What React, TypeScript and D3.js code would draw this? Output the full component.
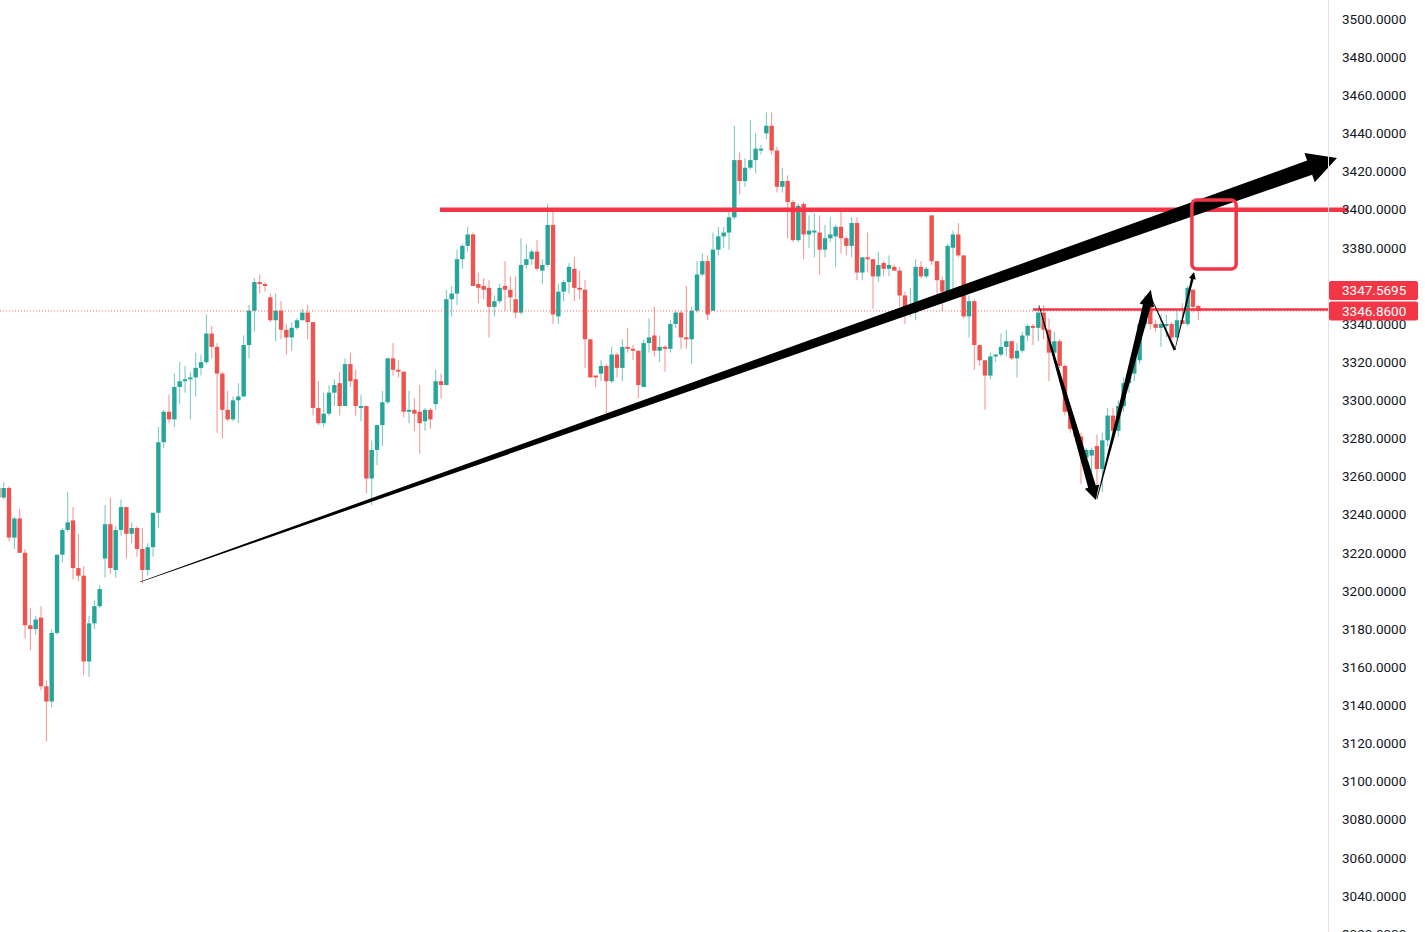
import React from 'react';
import * as d3 from 'd3';

// ---------- DATA ----------
const opens = [
  3254, 3249, 3254, 3228, 3238, 3220, 3182, 3180, 3186, 3150,
  3142, 3178, 3219, 3232, 3237, 3212, 3208, 3163, 3183, 3192,
  3217, 3235, 3211, 3232, 3244, 3230, 3233, 3222, 3211, 3223,
  3241, 3278, 3294, 3290, 3307, 3310, 3311, 3312, 3317, 3320,
  3335, 3328, 3314, 3295, 3290, 3300, 3302, 3329, 3347, 3362,
  3361, 3354, 3342, 3347, 3337, 3333, 3338, 3342, 3346, 3341,
  3296, 3288, 3293, 3304, 3309, 3297, 3319, 3311, 3296, 3297,
  3259, 3274, 3287, 3299, 3322, 3316, 3315, 3294, 3295, 3294,
  3289, 3295, 3298, 3310, 3308, 3353, 3356, 3374, 3381, 3387,
  3361, 3360, 3359, 3349, 3352, 3360, 3358, 3353, 3346, 3371,
  3374, 3378, 3368, 3371, 3392, 3344, 3357, 3362, 3369, 3359,
  3358, 3332, 3313, 3314, 3318, 3310, 3324, 3317, 3328, 3327,
  3326, 3307, 3330, 3334, 3326, 3328, 3327, 3340, 3346, 3333,
  3332, 3347, 3366, 3373, 3347, 3379, 3386, 3388, 3396, 3426,
  3415, 3422, 3426, 3431, 3440, 3444, 3431, 3412, 3415, 3404,
  3384, 3403, 3387, 3388, 3388, 3379, 3385, 3386, 3391, 3385,
  3381, 3393, 3367, 3375, 3374, 3365, 3372, 3369, 3370, 3368,
  3355, 3346, 3346, 3370, 3365, 3397, 3373, 3363, 3357, 3380,
  3387, 3376, 3344, 3352, 3329, 3321, 3313, 3323, 3324, 3328,
  3331, 3322, 3326, 3334, 3339, 3338, 3346, 3337, 3325, 3331,
  3318, 3294, 3285, 3281, 3270, 3271, 3276, 3264, 3279, 3292,
  3284, 3297, 3309, 3314, 3321, 3340, 3353, 3340, 3338, 3339,
  3340, 3333, 3342, 3340, 3358, 3349.5,
];
const highs = [
  3256, 3257, 3255, 3239, 3243, 3222, 3191, 3187, 3192, 3153,
  3180, 3219, 3233, 3252, 3244, 3230, 3213, 3187, 3195, 3203,
  3245, 3249, 3234, 3248, 3244, 3236, 3234, 3233, 3225, 3241,
  3286, 3295, 3303, 3314, 3320, 3318, 3315, 3325, 3324, 3345,
  3339, 3330, 3315, 3305, 3302, 3309, 3334, 3350, 3364, 3366,
  3362, 3356, 3356, 3352, 3340, 3341, 3343, 3348, 3350, 3341,
  3310, 3304, 3308, 3311, 3315, 3322, 3325, 3316, 3303, 3297,
  3279, 3287, 3305, 3322, 3330, 3321, 3315, 3305, 3301, 3308,
  3296, 3296, 3316, 3314, 3358, 3360, 3379, 3382, 3391, 3388,
  3367, 3364, 3363, 3355, 3361, 3373, 3365, 3365, 3385, 3382,
  3379, 3384, 3374, 3403, 3399, 3361, 3363, 3372, 3375, 3368,
  3363, 3332, 3313, 3321, 3319, 3328, 3325, 3332, 3338, 3329,
  3326, 3332, 3343, 3349, 3334, 3329, 3342, 3347, 3347, 3360,
  3349, 3373, 3377, 3376, 3388, 3391, 3391, 3399, 3444, 3430,
  3427, 3447, 3440, 3434, 3451, 3451, 3433, 3422, 3418, 3405,
  3403, 3404, 3397, 3398, 3397, 3392, 3396, 3392, 3399, 3386,
  3396, 3396, 3375, 3388, 3374, 3378, 3373, 3376, 3371, 3370,
  3357, 3359, 3374, 3373, 3370, 3397, 3373, 3365, 3382, 3389,
  3393, 3376, 3355, 3353, 3329, 3321, 3325, 3324, 3335, 3337,
  3331, 3330, 3336, 3340, 3340, 3349, 3350, 3343, 3336, 3332,
  3319, 3295, 3286, 3283, 3275, 3275, 3282, 3283, 3296, 3296,
  3300, 3312, 3318, 3326, 3342, 3355, 3358, 3342, 3345, 3345,
  3341, 3347, 3351, 3360, 3358, 3350,
];
const lows = [
  3248, 3248, 3226, 3222, 3220, 3175, 3169, 3177, 3148, 3121,
  3139, 3177, 3215, 3231, 3206, 3205, 3156, 3155, 3180, 3191,
  3207, 3209, 3207, 3229, 3217, 3225, 3218, 3204, 3208, 3218,
  3233, 3275, 3288, 3286, 3298, 3304, 3290, 3302, 3313, 3319,
  3322, 3283, 3280, 3289, 3289, 3288, 3302, 3322, 3336, 3356,
  3357, 3341, 3331, 3332, 3324, 3326, 3337, 3342, 3332, 3292,
  3287, 3286, 3292, 3297, 3292, 3297, 3307, 3292, 3289, 3251,
  3245, 3266, 3276, 3298, 3313, 3312, 3291, 3288, 3284, 3272,
  3284, 3285, 3295, 3301, 3308, 3344, 3350, 3369, 3378, 3360,
  3351, 3353, 3333, 3344, 3351, 3347, 3347, 3343, 3345, 3369,
  3371, 3368, 3361, 3370, 3340, 3340, 3352, 3356, 3352, 3353,
  3317, 3312, 3307, 3310, 3293, 3309, 3312, 3310, 3325, 3321,
  3301, 3307, 3325, 3323, 3320, 3315, 3325, 3338, 3327, 3327,
  3319, 3346, 3365, 3342, 3347, 3376, 3380, 3379, 3395, 3408,
  3412, 3421, 3419, 3429, 3437, 3429, 3409, 3409, 3385, 3383,
  3383, 3374, 3380, 3375, 3366, 3375, 3383, 3370, 3377, 3376,
  3375, 3363, 3363, 3367, 3348, 3362, 3365, 3365, 3368, 3349,
  3340, 3344, 3342, 3364, 3364, 3371, 3355, 3347, 3356, 3358,
  3375, 3343, 3333, 3316, 3318, 3295, 3311, 3320, 3323, 3323,
  3321, 3312, 3325, 3331, 3329, 3331, 3332, 3310, 3322, 3317,
  3292, 3283, 3278, 3256, 3266, 3256, 3255, 3252, 3276, 3280,
  3281, 3294, 3304, 3310, 3319, 3338, 3337, 3336, 3328, 3333,
  3332, 3332, 3340, 3339, 3346, 3342,
];
const closes = [
  3249, 3254, 3228, 3238, 3220, 3182, 3180, 3185, 3150, 3142,
  3178, 3219, 3232, 3236, 3212, 3208, 3163, 3183, 3192, 3201,
  3235, 3212, 3232, 3244, 3230, 3233, 3222, 3211, 3223, 3241,
  3278, 3294, 3290, 3307, 3310, 3311, 3312, 3317, 3320, 3335,
  3328, 3314, 3295, 3290, 3300, 3302, 3329, 3347, 3362, 3361,
  3360, 3342, 3347, 3337, 3333, 3338, 3342, 3346, 3341, 3296,
  3288, 3293, 3304, 3308, 3297, 3319, 3310, 3297, 3297, 3259,
  3274, 3287, 3299, 3322, 3316, 3315, 3294, 3295, 3293, 3288,
  3295, 3290, 3310, 3308, 3353, 3356, 3374, 3381, 3387, 3360,
  3359, 3358, 3349, 3352, 3359, 3358, 3354, 3346, 3371, 3374,
  3378, 3369, 3371, 3392, 3345, 3357, 3362, 3370, 3359, 3358,
  3332, 3312, 3312, 3318, 3310, 3324, 3317, 3328, 3327, 3326,
  3308, 3330, 3333, 3326, 3328, 3327, 3340, 3346, 3333, 3332,
  3347, 3366, 3373, 3345, 3379, 3386, 3388, 3396, 3426, 3415,
  3422, 3426, 3432, 3432, 3444, 3431, 3412, 3415, 3404, 3384,
  3402, 3387, 3389, 3389, 3379, 3385, 3387, 3391, 3385, 3381,
  3393, 3367, 3375, 3374, 3365, 3371, 3369, 3371, 3368, 3355,
  3345, 3348, 3370, 3365, 3369, 3373, 3363, 3357, 3381, 3387,
  3376, 3344, 3352, 3329, 3321, 3313, 3323, 3324, 3328, 3331,
  3322, 3326, 3334, 3339, 3338, 3346, 3337, 3325, 3331, 3318,
  3294, 3285, 3281, 3274, 3274, 3274, 3264, 3279, 3292, 3284,
  3297, 3309, 3314, 3322, 3340, 3352, 3340, 3338, 3340, 3340,
  3333, 3342, 3340, 3359, 3349, 3346.86,
];

const priceTicks = [
  3500, 3480, 3460, 3440, 3420, 3400, 3380, 3360, 3340, 3320, 3300, 3280, 3260,
  3240, 3220, 3200, 3180, 3160, 3140, 3120, 3100, 3080, 3060, 3040, 3020,
];

// Drawings, in (bar index, price) terms
const resistanceLevel = 3400;
const rayLevel = 3347.5695;
const lastPrice = 3346.86;
const trendArrow = { i0: 26.56, p0: 3204.7, i1: 251.0, p1: 3427.1 };
const vArrows = [
  { i0: 195.1, p0: 3350.0, i1: 205.8, p1: 3247.7 },
  { i0: 206.0, p0: 3248.2, i1: 216.1, p1: 3357.9 },
  { i0: 216.1, p0: 3354.2, i1: 220.6, p1: 3326.4 },
  { i0: 220.6, p0: 3326.4, i1: 224.2, p1: 3367.3 },
];
const targetBox = { i0: 223.8, i1: 232.1, pTop: 3405.1, pBot: 3368.9 };
const resistanceFrom = 82.8;
const resistanceTo = 253.1;
const rayFrom = 194.0;

// ---------- STYLE ----------
const W = 1425;
const H = 932;
const AXIS_X = 1328;
const UP = '#26a69a';
const DOWN = '#ef5350';
const DRAW_RED = '#f23645';
const FONT = 'Roboto, "Noto Sans", sans-serif';

function arrowPoly(x0: number, y0: number, x1: number, y1: number,
  tailW: number, shaftW: number, headLen: number, headW: number): string {
  const dx = x1 - x0, dy = y1 - y0;
  const L = Math.hypot(dx, dy);
  const ux = dx / L, uy = dy / L;
  const nx = -uy, ny = ux;
  const bx = x1 - ux * headLen, by = y1 - uy * headLen;
  const pts: [number, number][] = [];
  pts.push([x0 + nx * tailW / 2, y0 + ny * tailW / 2]);
  pts.push([bx + nx * shaftW / 2, by + ny * shaftW / 2]);
  if (headLen > 0) {
    pts.push([bx + nx * headW / 2, by + ny * headW / 2]);
    pts.push([x1, y1]);
    pts.push([bx - nx * headW / 2, by - ny * headW / 2]);
  } else {
    pts.push([x1 + nx * shaftW / 2, y1 + ny * shaftW / 2]);
    pts.push([x1 - nx * shaftW / 2, y1 - ny * shaftW / 2]);
  }
  pts.push([bx - nx * shaftW / 2, by - ny * shaftW / 2]);
  pts.push([x0 - nx * tailW / 2, y0 - ny * tailW / 2]);
  return (d3.line()(pts) || '') + 'Z';
}

export default function App() {
  const x = d3.scaleLinear().domain([0, 225]).range([-1.63, 1198.3]);
  const y = d3.scaleLinear().domain([3040, 3500]).range([896, 19]);

  const candles = opens.map((o, i) => {
    const c = closes[i];
    const up = c >= o;
    const col = up ? UP : DOWN;
    const cx = x(i);
    const top = y(Math.max(o, c));
    const bot = y(Math.min(o, c));
    return (
      <g key={i}>
        <rect x={cx - 0.5} y={y(highs[i])} width={1} height={Math.max(1, y(lows[i]) - y(highs[i]))}
          fill={col} opacity={0.65} />
        <rect x={cx - 2.2} y={top} width={4.4} height={Math.max(1, bot - top)} fill={col} />
      </g>
    );
  });

  const vSpecs = [
    { tail: 0.6, shaft: 8, hl: 14, hw: 15 },
    { tail: 0.6, shaft: 8, hl: 16, hw: 15 },
    { tail: 0.5, shaft: 2.6, hl: 0, hw: 0 },
    { tail: 0.5, shaft: 2.6, hl: 7, hw: 7 },
  ];

  const rayY = y(rayLevel);
  const lastY = y(lastPrice);
  const upperLabelY = lastY - 20.5;
  // axis labels that sit fully under the price labels are hidden, as on the original
  const visibleTicks = priceTicks.filter((t) => Math.abs(y(t) - upperLabelY) > 12);

  return (
    <svg width={W} height={H} style={{ position: 'absolute', left: 0, top: 0, display: 'block', background: '#ffffff' }}
      xmlns="http://www.w3.org/2000/svg">
      <defs>
        <clipPath id="pane"><rect x={0} y={0} width={AXIS_X} height={H} /></clipPath>
      </defs>
      <rect x={0} y={0} width={W} height={H} fill="#ffffff" />
      <g clipPath="url(#pane)">{candles}</g>

      {/* last price dotted line */}
      <line x1={0} x2={AXIS_X} y1={lastY} y2={lastY} stroke={DOWN} strokeWidth={1}
        strokeDasharray="1 2" opacity={0.85} />

      {/* horizontal ray */}
      <line x1={x(rayFrom)} x2={AXIS_X} y1={rayY} y2={rayY} stroke={DRAW_RED} strokeWidth={2.5} />

      {/* resistance line */}
      <line x1={x(resistanceFrom)} x2={x(resistanceTo)} y1={y(resistanceLevel)} y2={y(resistanceLevel)}
        stroke={DRAW_RED} strokeWidth={4.5} />

      {/* trend arrow marker */}
      <path d={arrowPoly(x(trendArrow.i0), y(trendArrow.p0), x(trendArrow.i1), y(trendArrow.p1), 0.6, 15, 29, 31)}
        fill="#000000" />

      {/* V arrows */}
      {vArrows.map((a, k) => (
        <path key={k} d={arrowPoly(x(a.i0), y(a.p0), x(a.i1), y(a.p1), vSpecs[k].tail, vSpecs[k].shaft, vSpecs[k].hl, vSpecs[k].hw)}
          fill="#000000" />
      ))}

      {/* target rectangle */}
      <rect x={x(targetBox.i0)} y={y(targetBox.pTop)} width={x(targetBox.i1) - x(targetBox.i0)}
        height={y(targetBox.pBot) - y(targetBox.pTop)} rx={5} ry={5} fill="none" stroke={DRAW_RED} strokeWidth={3.5} />

      {/* price axis */}
      <line x1={AXIS_X + 0.5} x2={AXIS_X + 0.5} y1={0} y2={H} stroke="#e0e3eb" strokeWidth={1} />
      {visibleTicks.map((t) => (
        <text key={t} x={1342} y={y(t)} dy="0.35em" fontFamily={FONT} fontSize={13.5} fill="#131722">
          {t.toFixed(4)}
        </text>
      ))}

      {/* price labels */}
      <rect x={AXIS_X + 1} y={upperLabelY - 9.5} width={89} height={19} fill={DRAW_RED} rx={2} />
      <text x={1342} y={upperLabelY} dy="0.35em" fontFamily={FONT} fontSize={13.5} fill="#ffffff">
        {rayLevel.toFixed(4)}
      </text>
      <rect x={AXIS_X + 1} y={lastY - 9.5} width={89} height={19} fill={DRAW_RED} rx={2} />
      <text x={1342} y={lastY} dy="0.35em" fontFamily={FONT} fontSize={13.5} fill="#ffffff">
        {lastPrice.toFixed(4)}
      </text>
    </svg>
  );
}
